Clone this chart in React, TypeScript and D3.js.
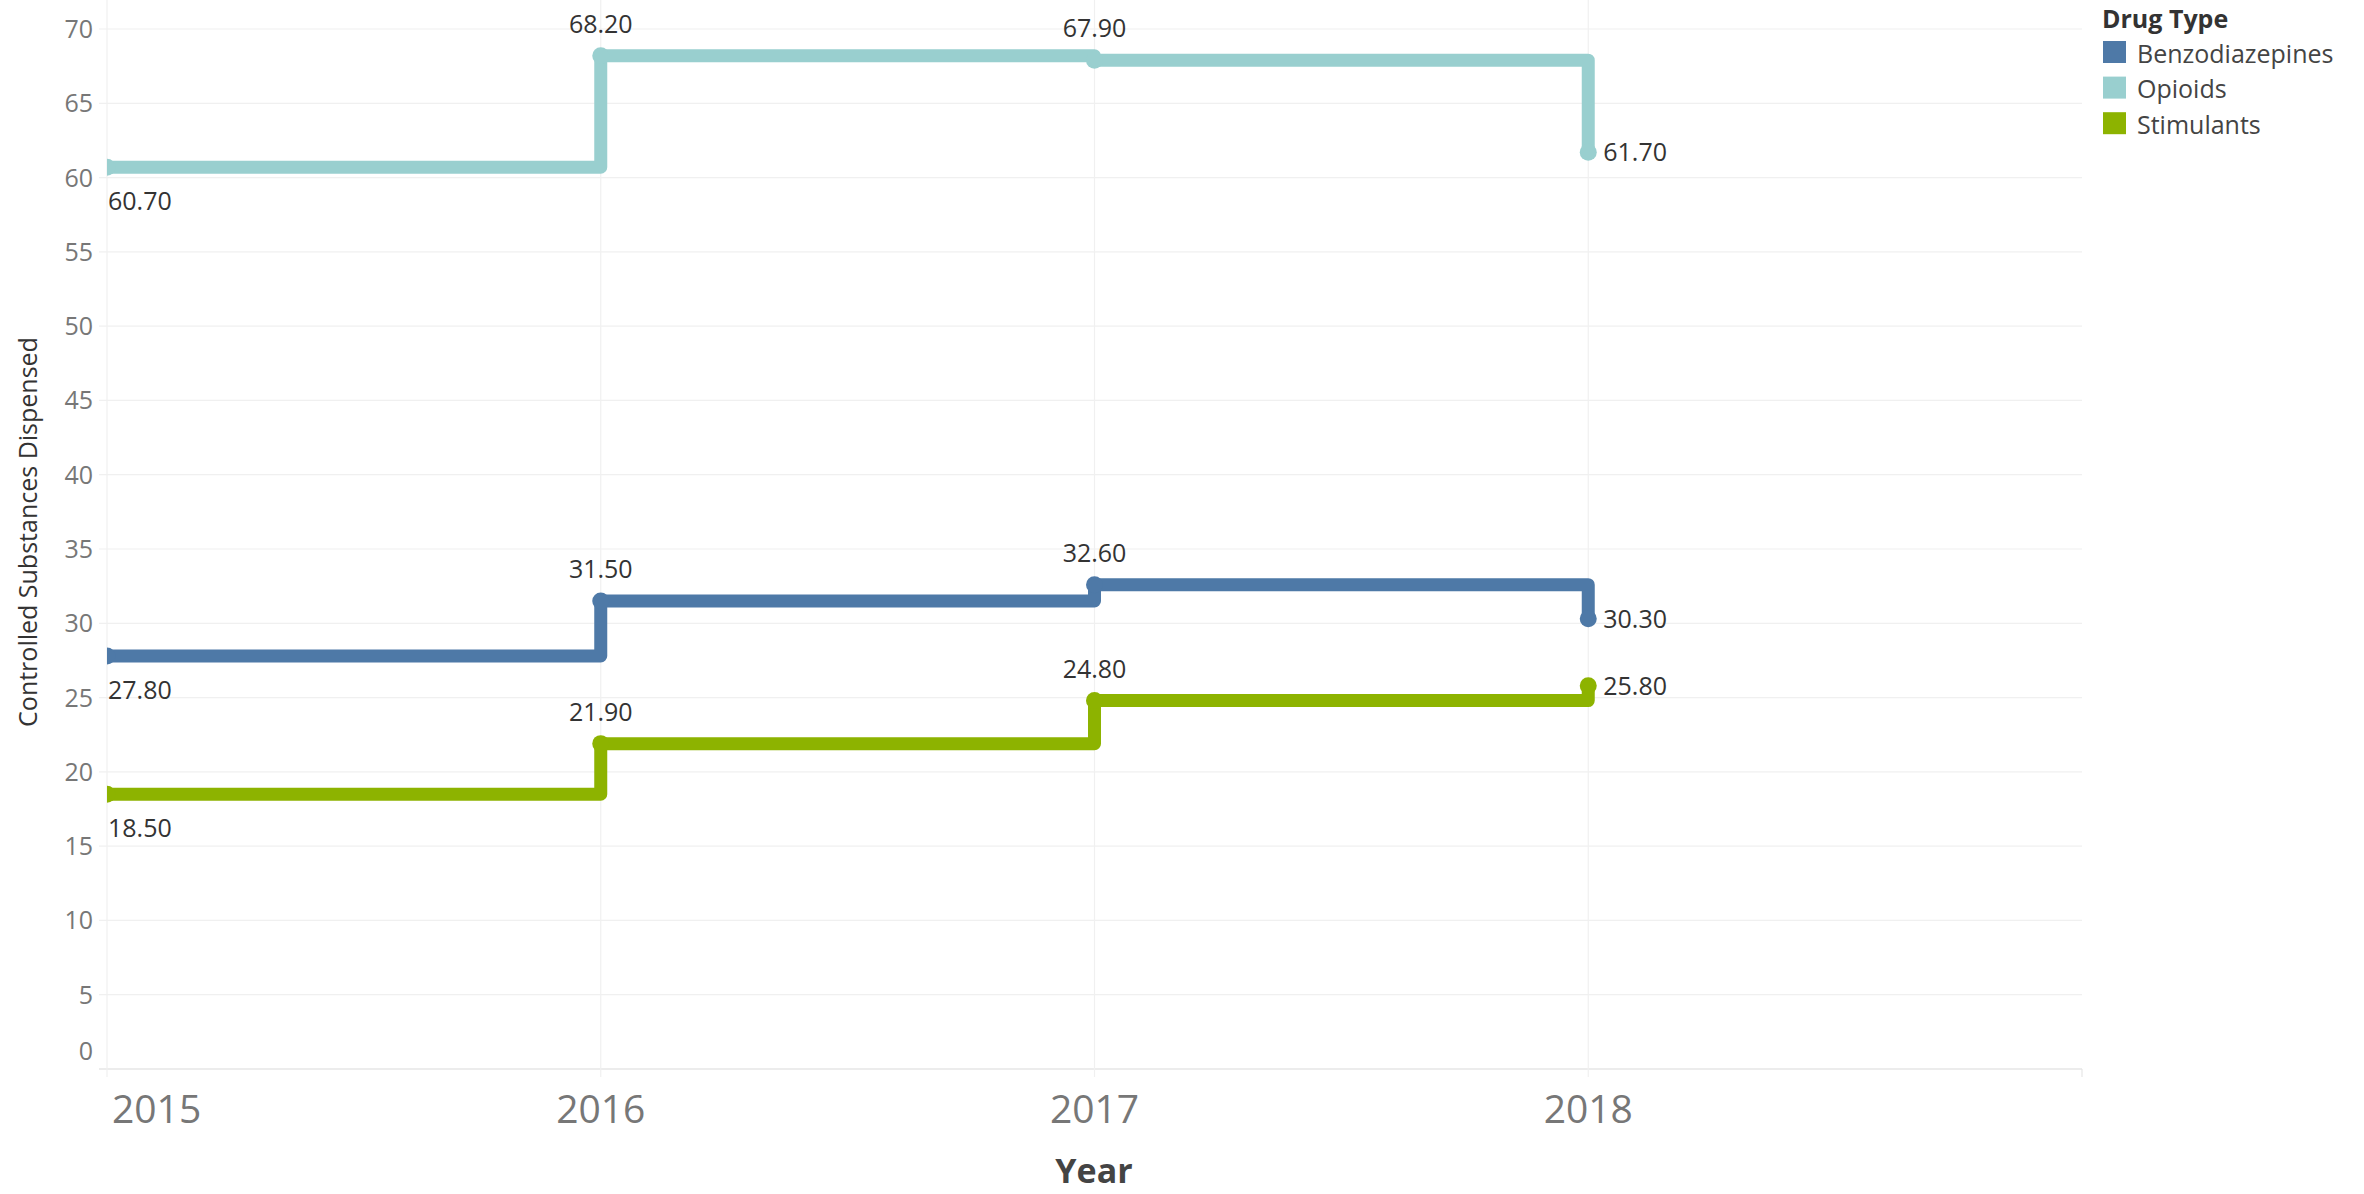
import React from 'react';
import * as d3 from 'd3';

const years = [2015, 2016, 2017, 2018];
const benzodiazepines = [27.8, 31.5, 32.6, 30.3];
const opioids = [60.7, 68.2, 67.9, 61.7];
const stimulants = [18.5, 21.9, 24.8, 25.8];
const drugTypes = ['Benzodiazepines', 'Opioids', 'Stimulants'];
const drugColors = ['#4e79a7', '#99cfcf', '#8db300'];
const yTicks = [0, 5, 10, 15, 20, 25, 30, 35, 40, 45, 50, 55, 60, 65, 70];
const xTicks = [2015, 2016, 2017, 2018];

const W = 2364;
const H = 1194;
const FONT = '"Open Sans", "Noto Sans", sans-serif';

export default function App() {
  const left = 107;
  const right = 2082;
  const bottom = 1069;
  const x = d3.scaleLinear().domain([2015, 2019]).range([left, right]);
  const y = d3.scaleLinear().domain([0, 70]).range([bottom, 29]);
  const series = [benzodiazepines, opioids, stimulants];
  const line = d3
    .line<number>()
    .x((_, i) => x(years[i]))
    .y((d) => y(d))
    .curve(d3.curveStepAfter);

  return (
    <svg
      width={W}
      height={H}
      style={{ position: 'absolute', left: 0, top: 0, background: '#fff' }}
      fontFamily={FONT}
    >
      <defs>
        <clipPath id="pane">
          <rect x={left} y={0} width={right - left} height={bottom + 12} />
        </clipPath>
      </defs>
      {yTicks.map((t) => (
        <line
          key={'g' + t}
          x1={99}
          x2={right}
          y1={y(t)}
          y2={y(t)}
          stroke={t === 0 ? '#e6e6e6' : '#f0f0f0'}
          strokeWidth={t === 0 ? 1.5 : 1.2}
        />
      ))}
      {xTicks.map((t) => (
        <line
          key={'v' + t}
          x1={x(t)}
          x2={x(t)}
          y1={0}
          y2={bottom + 8}
          stroke="#f0f0f0"
          strokeWidth={1.2}
        />
      ))}
      <line x1={right} x2={right} y1={bottom} y2={bottom + 8} stroke="#e6e6e6" strokeWidth={1.2} />
      {yTicks.map((t) => (
        <text
          key={'yt' + t}
          x={93}
          y={t === 0 ? 1060 : y(t) + 9}
          textAnchor="end"
          fontSize={25}
          fill="#777"
        >
          {t}
        </text>
      ))}
      {xTicks.map((t, i) => (
        <text
          key={'xt' + t}
          x={i === 0 ? x(t) + 5 : x(t)}
          y={1123}
          textAnchor={i === 0 ? 'start' : 'middle'}
          fontSize={39}
          fill="#777"
        >
          {t}
        </text>
      ))}
      <text x={1094} y={1183} textAnchor="middle" fontSize={34} fontWeight="bold" fill="#444">
        Year
      </text>
      <text
        transform={`translate(27,532) rotate(-90)`}
        textAnchor="middle"
        dominantBaseline="central"
        fontSize={25}
        fill="#333"
      >
        Controlled Substances Dispensed
      </text>
      <g clipPath="url(#pane)">
        {series.map((vals, si) => (
          <g key={'s' + si}>
            <path
              d={line(vals) || ''}
              fill="none"
              stroke={drugColors[si]}
              strokeWidth={13}
              strokeLinejoin="round"
              strokeLinecap="round"
            />
            {vals.map((v, i) => (
              <circle key={i} cx={x(years[i])} cy={y(v)} r={8.5} fill={drugColors[si]} />
            ))}
          </g>
        ))}
      </g>
      {series.map((vals, si) =>
        vals.map((v, i) => {
          const px = x(years[i]);
          const py = y(v);
          let lx = px;
          let ly = py - 23;
          let anchor: 'start' | 'middle' = 'middle';
          if (i === 0) {
            lx = px + 1;
            ly = py + 43;
            anchor = 'start';
          } else if (i === vals.length - 1) {
            lx = px + 15;
            ly = py + 9;
            anchor = 'start';
          }
          return (
            <text key={`l${si}-${i}`} x={lx} y={ly} textAnchor={anchor} fontSize={25} fill="#333">
              {v.toFixed(2)}
            </text>
          );
        })
      )}
      <text x={2102} y={28} fontSize={25} fontWeight="bold" fill="#333">
        Drug Type
      </text>
      {drugTypes.map((d, i) => (
        <g key={d}>
          <rect x={2103} y={41 + i * 35.6} width={23} height={22} fill={drugColors[i]} />
          <text x={2137} y={62.7 + i * 35.6} fontSize={25} fill="#444">
            {d}
          </text>
        </g>
      ))}
    </svg>
  );
}
